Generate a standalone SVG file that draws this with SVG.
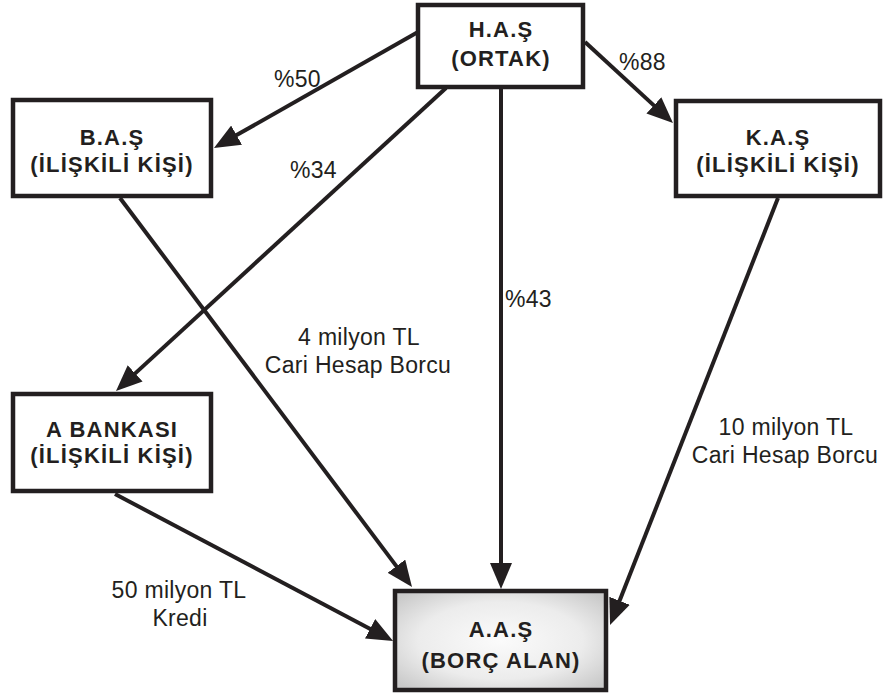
<svg xmlns="http://www.w3.org/2000/svg" width="888" height="697" viewBox="0 0 888 697">
  <defs>
    <radialGradient id="debtorFill" cx="50%" cy="50%" r="65%">
      <stop offset="0" stop-color="#fbfbfb"/>
      <stop offset="0.6" stop-color="#ececec"/>
      <stop offset="1" stop-color="#c9c9c9"/>
    </radialGradient>
    <marker id="head" viewBox="0 -11 26 22" refX="4" refY="0" markerWidth="26" markerHeight="22" markerUnits="userSpaceOnUse" orient="auto">
      <path d="M0,-11 L26,0 L0,11 z" fill="#231f20"/>
    </marker>
  </defs>
  <style>
    .box { fill: #ffffff; stroke: #231f20; stroke-width: 4.5; }
    .name { font-family: "Liberation Sans", Arial, sans-serif; font-weight: bold; font-size: 22px; letter-spacing: 1.2px; fill: #231f20; text-anchor: middle; }
    .lbl { font-family: "Liberation Sans", Arial, sans-serif; font-size: 23px; letter-spacing: 0.3px; fill: #231f20; }
    .mid { text-anchor: middle; }
    .link { fill: none; stroke: #231f20; stroke-width: 4; marker-end: url(#head); }
  </style>
  <rect width="888" height="697" fill="#ffffff"/>

  <!-- ownership and debt links -->
  <g id="connectors">
    <line class="link" x1="418" y1="32" x2="233.1" y2="137.1"/>
    <line class="link" x1="585" y1="42" x2="656.8" y2="108.1"/>
    <line class="link" x1="446" y1="88" x2="132.2" y2="376.1"/>
    <line class="link" x1="501" y1="89" x2="501" y2="567"/>
    <line class="link" x1="120" y1="198" x2="398.8" y2="569.4"/>
    <line class="link" x1="115" y1="494" x2="373.6" y2="630.7"/>
    <line class="link" x1="778" y1="198" x2="618.1" y2="604.5"/>
  </g>

  <!-- link labels -->
  <g id="labels">
    <text class="lbl" x="274" y="87">%50</text>
    <text class="lbl" x="290" y="178">%34</text>
    <text class="lbl" x="505" y="307">%43</text>
    <text class="lbl" x="619" y="70">%88</text>
    <text class="lbl mid" x="359" y="345">4 milyon TL</text>
    <text class="lbl mid" x="358" y="373">Cari Hesap Borcu</text>
    <text class="lbl mid" x="786" y="435">10 milyon TL</text>
    <text class="lbl mid" x="785" y="463">Cari Hesap Borcu</text>
    <text class="lbl mid" x="179" y="598">50 milyon TL</text>
    <text class="lbl mid" x="180" y="626">Kredi</text>
  </g>

  <g id="has">
    <rect class="box" x="418" y="5" width="165" height="82"/>
    <text class="name" x="501" y="37">H.A.Ş</text>
    <text class="name" x="501" y="66">(ORTAK)</text>
  </g>

  <g id="bas">
    <rect class="box" x="13" y="100" width="198" height="96"/>
    <text class="name" x="112" y="145">B.A.Ş</text>
    <text class="name" x="112" y="172">(İLİŞKİLİ KİŞİ)</text>
  </g>

  <g id="kas">
    <rect class="box" x="676" y="101" width="204" height="95"/>
    <text class="name" x="778" y="145">K.A.Ş</text>
    <text class="name" x="778" y="172">(İLİŞKİLİ KİŞİ)</text>
  </g>

  <g id="abankasi">
    <rect class="box" x="13" y="394" width="198" height="97"/>
    <text class="name" x="112" y="437">A BANKASI</text>
    <text class="name" x="112" y="463">(İLİŞKİLİ KİŞİ)</text>
  </g>

  <g id="aas">
    <rect class="box" x="395" y="591" width="211" height="99" style="fill:url(#debtorFill)"/>
    <text class="name" x="501" y="637">A.A.Ş</text>
    <text class="name" x="501" y="668">(BORÇ ALAN)</text>
  </g>
</svg>
